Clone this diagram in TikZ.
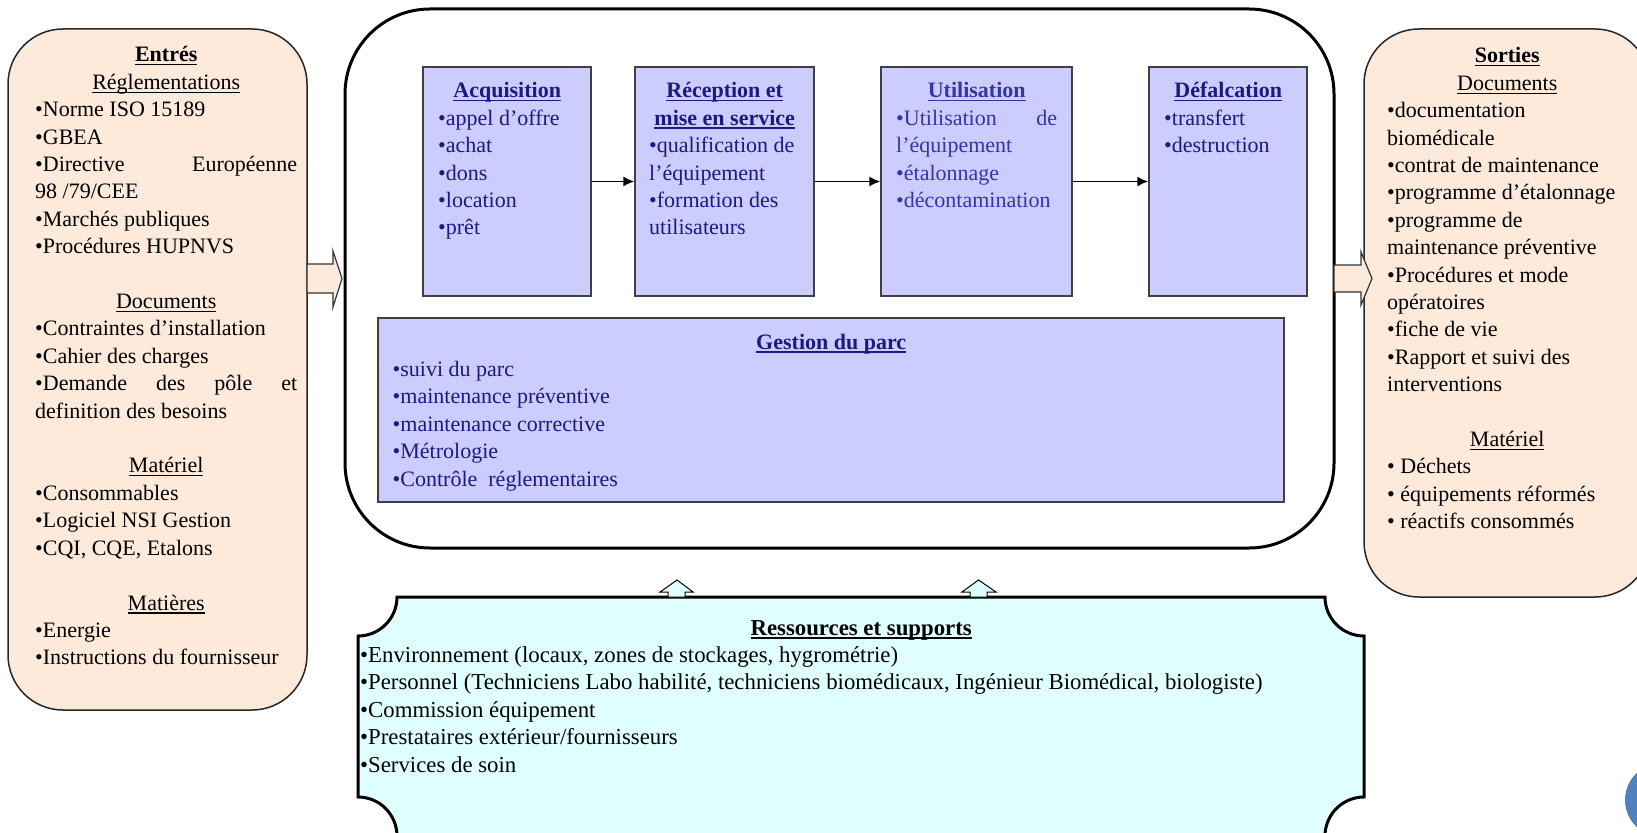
\documentclass[tikz,border=0pt]{standalone}
\usepackage{fontspec}
\setmainfont{Liberation Serif}
\usetikzlibrary{arrows.meta}
\definecolor{peche}{HTML}{FDEADA}
\definecolor{lavande}{HTML}{CCCCFF}
\definecolor{cyanpale}{HTML}{E0FFFF}
\definecolor{marine}{HTML}{1A1A80}
\definecolor{marineclair}{HTML}{3535A5}
\definecolor{cercle}{HTML}{4F81BD}
\newcommand{\souligne}[2]{\setbox0\hbox{#2}\rlap{\rule[-3.5pt]{\wd0}{#1}}\box0}
\newcommand{\titre}[1]{\makebox[\linewidth]{\textbf{\souligne{1.7pt}{#1}}}}
\newcommand{\rubrique}[1]{\makebox[\linewidth]{\souligne{1.1pt}{#1}}}
\newcommand{\etire}[1]{\makebox[\linewidth][s]{\spaceskip=0pt\xspaceskip=0pt\relax #1}}

\tikzset{
  txt/.style={inner sep=0pt, anchor=base west, align=left, font=\fontsize{22}{27.4}\selectfont,
    execute at begin node={\spaceskip=0pt\xspaceskip=0pt\relax}},
  cadre/.style={draw=black!85, line width=1.5pt, fill=peche, rounded corners=55pt},
  etape/.style={draw=black!75, line width=1.5pt, fill=lavande, inner sep=0pt},
  fleche/.style={line width=1.5pt, -{Latex[length=11pt,width=10pt]}},
  grosse/.style={draw=black!80, line width=1.2pt, fill=peche},
  petite/.style={draw=black, line width=1pt, fill=cyanpale}
}

\begin{document}
\begin{tikzpicture}[x=1pt,y=-1pt]
\useasboundingbox (0,0) rectangle (1637,832);
\clip (0,0) rectangle (1637,832);

\node[cadre, minimum width=299pt, minimum height=681pt] (entree) at (157.5,369.5) {};
\node[cadre, minimum width=286pt, minimum height=568pt] (sortie) at (1507,313) {};
\node[draw, line width=3pt, fill=white, rounded corners=85pt, minimum width=989pt, minimum height=539pt] (processus) at (839.5,278.5) {};

\draw[grosse] (307,264) -- (333,264) -- (333,251) -- (342,278.5) -- (333,307) -- (333,293) -- (307,293) -- cycle;
\draw[grosse] (1334,265) -- (1361,265) -- (1361,252) -- (1372,278.5) -- (1361,305) -- (1361,292) -- (1334,292) -- cycle;

\node[txt, text width=262pt] (entreetxt) at (35,62) {%
\titre{Entrés}\\
\rubrique{Réglementations}\\
•Norme ISO 15189\\
•GBEA\\
\etire{•Directive Européenne}\\
98 /79/CEE\\
•Marchés publiques\\
•Procédures HUPNVS\\[27.4pt]
\rubrique{Documents}\\
•Contraintes d’installation\\
•Cahier des charges\\
\etire{•Demande des pôle et}\\
definition des besoins\\[27.4pt]
\rubrique{Matériel}\\
•Consommables\\
•Logiciel NSI Gestion\\
•CQI, CQE, Etalons\\[27.4pt]
\rubrique{Matières}\\
•Energie\\
•Instructions du fournisseur};

\node[txt, text width=240pt] (sortietxt) at (1387,63) {%
\titre{Sorties}\\
\rubrique{Documents}\\
•documentation\\
biomédicale\\
•contrat de maintenance\\
•programme d’étalonnage\\
•programme de\\
maintenance préventive\\
•Procédures et mode\\
opératoires\\
•fiche de vie\\
•Rapport et suivi des\\
interventions\\[27.4pt]
\rubrique{Matériel}\\
• Déchets\\
• équipements réformés\\
• réactifs consommés};

\node[etape, minimum width=168pt, minimum height=229pt] (acq) at (507,181.5) {};
\node[etape, minimum width=179pt, minimum height=229pt] (rec) at (724.5,181.5) {};
\node[etape, minimum width=191pt, minimum height=229pt] (util) at (976.5,181.5) {};
\node[etape, minimum width=158pt, minimum height=229pt] (defal) at (1228,181.5) {};
\node[etape, minimum width=906pt, minimum height=184pt] (gestion) at (831,410) {};

\draw[fleche] (acq) -- (rec);
\draw[fleche] (rec) -- (util);
\draw[fleche] (util) -- (defal);

\node[txt, text width=138pt, text=marine] (acqtxt) at (438,98) {%
\titre{Acquisition}\\
•appel d’offre\\
•achat\\
•dons\\
•location\\
•prêt};
\node[txt, text width=151pt, text=marine] (rectxt) at (649,98) {%
\titre{Réception et}\\
\titre{mise en service}\\
•qualification de\\
l’équipement\\
•formation des\\
utilisateurs};
\node[txt, text width=161pt, text=marineclair] (utiltxt) at (896,98) {%
\titre{Utilisation}\\
\etire{•Utilisation de}\\
l’équipement\\
•étalonnage\\
•décontamination};
\node[txt, text width=128pt, text=marine] (defaltxt) at (1164,98) {%
\titre{Défalcation}\\
•transfert\\
•destruction};
\node[txt, text width=877pt, text=marine] (gestiontxt) at (392.5,349) {%
\titre{Gestion du parc}\\
•suivi du parc\\
•maintenance préventive\\
•maintenance corrective\\
•Métrologie\\
•Contrôle\ \ réglementaires};

\draw[line width=3pt, fill=cyanpale] (397,597) -- (1325,597) .. controls (1325,618.5) and (1342.5,636) .. (1364,636)
  -- (1364,797) .. controls (1342.5,797) and (1325,814.5) .. (1325,836)
  -- (397,836) .. controls (397,814.5) and (379.5,797) .. (358,797)
  -- (358,636) .. controls (379.5,636) and (397,618.5) .. (397,597) -- cycle;
\draw[petite] (668,597) -- (668,592) -- (660,592) -- (677,580) -- (693,592) -- (685,592) -- (685,597) -- cycle;
\draw[petite] (970,597) -- (970,592) -- (962,592) -- (978.5,580) -- (996,592) -- (987,592) -- (987,597) -- cycle;

\node[txt, text width=1002pt, font=\fontsize{22.8}{27.4}\selectfont] (ressourcestxt) at (360,635) {%
\titre{Ressources et supports}\\
•Environnement (locaux, zones de stockages, hygrométrie)\\
•Personnel (Techniciens Labo habilité, techniciens biomédicaux, Ingénieur Biomédical, biologiste)\\
•Commission équipement\\
•Prestataires extérieur/fournisseurs\\
•Services de soin};

\fill[cercle] (1662,800) circle[radius=37pt];
\end{tikzpicture}
\end{document}
